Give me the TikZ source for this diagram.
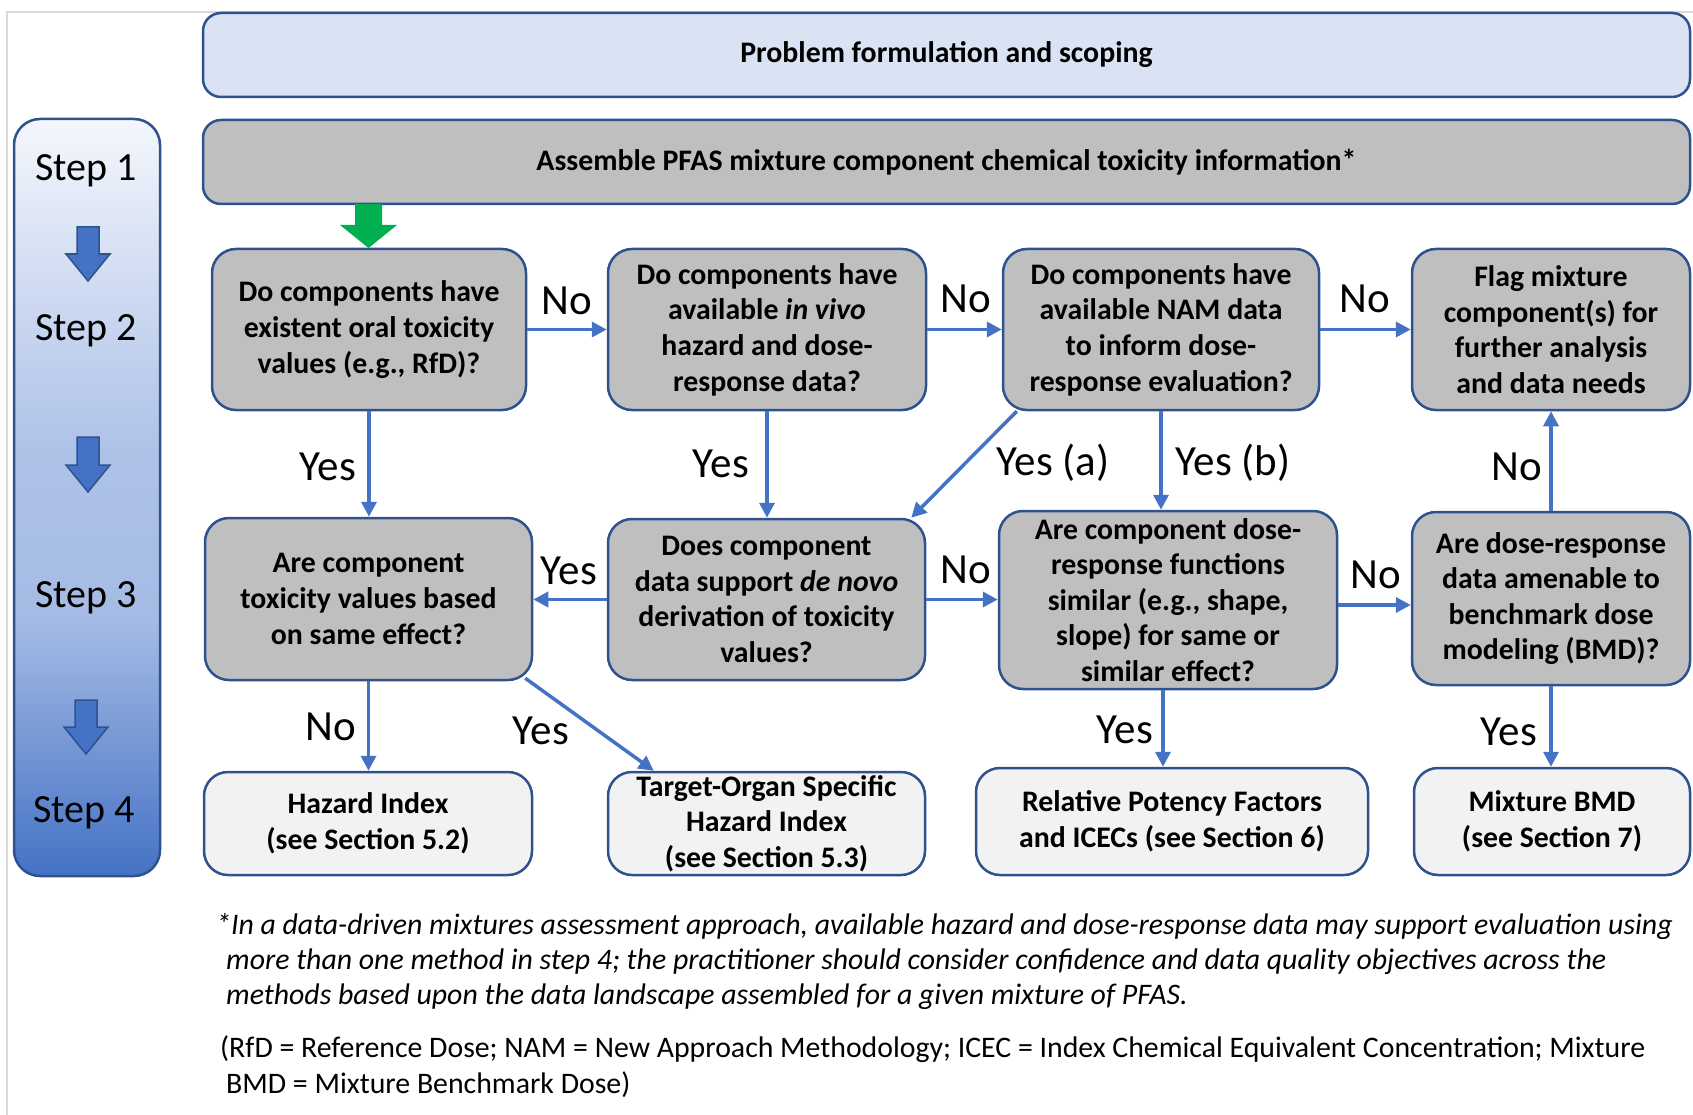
\documentclass[tikz,border=0pt]{standalone}
\usepackage{fontspec}
\setmainfont{Carlito}
\usetikzlibrary{arrows.meta,calc}

\definecolor{edgeblue}{HTML}{2F528F}
\definecolor{arrowblue}{HTML}{4472C4}
\definecolor{topfill}{HTML}{DAE3F3}
\definecolor{qfill}{HTML}{BFBFBF}
\definecolor{endfill}{HTML}{F2F2F2}
\definecolor{gogreen}{HTML}{00B050}
\definecolor{framegray}{HTML}{D9D9D9}
\definecolor{panelA}{HTML}{F4F7FC}
\definecolor{panelB}{HTML}{C6D4EF}
\definecolor{panelC}{HTML}{AEC2E8}
\definecolor{panelD}{HTML}{A5BBE5}

% light at the top, deep blue at the bottom (0bp = bottom)
\pgfdeclareverticalshading{stepshade}{100bp}{%
  color(0bp)=(arrowblue); color(25bp)=(arrowblue);
  color(42bp)=(panelD); color(53bp)=(panelC);
  color(61bp)=(panelB); color(75bp)=(panelA); color(100bp)=(panelA)}

\tikzset{
  box/.style={draw=edgeblue, line width=2.5pt, rounded corners=24pt,
    align=center, inner sep=0pt,
    font=\fontsize{29.8}{35.6}\selectfont\bfseries},
  headbox/.style={box, fill=topfill, rounded corners=18pt},
  infobox/.style={box, fill=qfill, rounded corners=18pt},
  qbox/.style={box, fill=qfill},
  endbox/.style={box, fill=endfill},
  flow/.style={draw=arrowblue, line width=3.5pt,
    -{Triangle[length=15pt,width=15pt]}},
  lbl/.style={font=\fontsize{43}{50}\selectfont, inner sep=0pt},
  steplbl/.style={font=\fontsize{40}{48}\selectfont, inner sep=0pt},
  blockarrow/.style={fill=arrowblue, draw=edgeblue, line width=1.5pt},
  notetext/.style={anchor=west, inner sep=0pt},
}

\begin{document}
\begin{tikzpicture}[x=1pt, y=-1pt]
\useasboundingbox (0,0) rectangle (1693,1115);

% outer frame
\draw[framegray, line width=2pt] (1693,12) -- (7,12) -- (7,1115);

% step panel
\path[shading=stepshade, draw=edgeblue, line width=2.5pt, rounded corners=26pt]
  (14,119) rectangle (160,876);
\node[steplbl] (s1) at (86,171) {Step 1};
\node[steplbl] (s2) at (86,331) {Step 2};
\node[steplbl] (s3) at (86,598) {Step 3};
\node[steplbl] (s4) at (84,813) {Step 4};
\draw[blockarrow] (77,227) -- (99,227) -- (99,254) -- (110,254) -- (88,281)
  -- (66,254) -- (77,254) -- cycle;
\draw[blockarrow] (77,437) -- (99,437) -- (99,465) -- (110,465) -- (88,492)
  -- (66,465) -- (77,465) -- cycle;
\draw[blockarrow] (75,700) -- (97,700) -- (97,727) -- (108,727) -- (86,754)
  -- (64,727) -- (75,727) -- cycle;

% top bands
\node[headbox, minimum width=1487pt, minimum height=84pt] (T) at (946.5,55)
  {Problem formulation and scoping};
\node[infobox, minimum width=1487pt, minimum height=84pt] (A) at (946.5,162)
  {Assemble PFAS mixture component chemical toxicity information*};

% row 1
\node[qbox, minimum width=314pt, minimum height=161pt] (B1) at (369,329.5)
  {Do components have\\existent oral toxicity\\values (e.g., RfD)?};
\node[qbox, minimum width=318pt, minimum height=161pt] (B2) at (767,329.5)
  {Do components have\\available \textit{in vivo}\\hazard and dose-\\response data?};
\node[qbox, minimum width=316pt, minimum height=161pt] (B3) at (1161,329.5)
  {Do components have\\available NAM data\\to inform dose-\\response evaluation?};
\node[qbox, minimum width=278pt, minimum height=161pt] (B4) at (1551,329.5)
  {Flag mixture\\component(s) for\\further analysis\\and data needs};

% row 2
\node[qbox, minimum width=327pt, minimum height=162pt] (C1) at (368.5,599)
  {Are component\\toxicity values based\\on same effect?};
\node[qbox, minimum width=317pt, minimum height=161pt] (C2) at (766.5,599.5)
  {Does component\\data support \textit{de novo}\\derivation of toxicity\\values?};
\node[qbox, minimum width=338pt, minimum height=178pt] (C3) at (1168,600)
  {Are component dose-\\response functions\\similar (e.g., shape,\\slope) for same or\\similar effect?};
\node[qbox, minimum width=278pt, minimum height=173pt] (C4) at (1551,598.5)
  {Are dose-response\\data amenable to\\benchmark dose\\modeling (BMD)?};

% row 3
\node[endbox, minimum width=328pt, minimum height=103pt] (D1) at (368,823.5)
  {Hazard Index\\(see Section 5.2)};
\node[endbox, minimum width=317pt, minimum height=103pt] (D2) at (766.5,823.5)
  {Target-Organ Specific\\Hazard Index\\(see Section 5.3)};
\node[endbox, minimum width=392pt, minimum height=107pt] (D3) at (1172,821.5)
  {Relative Potency Factors\\and ICECs (see Section 6)};
\node[endbox, minimum width=276pt, minimum height=107pt] (D4) at (1552,821.5)
  {Mixture BMD\\(see Section 7)};

% entry arrow
\fill[gogreen] (355,204) -- (382,204) -- (382,225) -- (397,225) -- (368.5,248)
  -- (340,225) -- (355,225) -- cycle;

% connectors
\draw[flow] (B1.east) -- (B2.west);
\draw[flow] (B2.east) -- (B3.west);
\draw[flow] (B3.east) -- (B4.west);
\draw[flow] (B1.south) -- (B1.south |- C1.north);
\draw[flow] (B2.south) -- (B2.south |- C2.north);
\draw[flow] ($(B3.south west)+(15,0)$) -- ($(C2.north east)+(-15,0)$);
\draw[flow] (B3.south) -- (B3.south |- C3.north);
\draw[flow] (C4.north) -- (C4.north |- B4.south);
\draw[flow] (C2.west) -- (C2.west -| C1.east);
\draw[flow] (C2.east) -- (C2.east -| C3.west);
\draw[flow] ($(C3.east)+(0,5)$) -- ($(C3.east -| C4.west)+(0,5)$);
\draw[flow] (C1.south) -- (C1.south |- D1.north);
\draw[flow] ($(C1.south east)+(-8,-3)$) -- ($(D2.north west)+(47,0)$);
\draw[flow] ($(C3.south)+(-5,0)$) -- ($(C3.south |- D3.north)+(-5,0)$);
\draw[flow] (C4.south) -- (C4.south |- D4.north);

% connector labels
\node[lbl] (n1) at (567,301) {No};
\node[lbl] (n2) at (966,299) {No};
\node[lbl] (n3) at (1365,299) {No};
\node[lbl] (y1) at (328,467) {Yes};
\node[lbl] (y2) at (721,464) {Yes};
\node[lbl] (ya) at (1053,463) {Yes (a)};
\node[lbl] (yb) at (1233,463) {Yes (b)};
\node[lbl] (n4) at (1517,467) {No};
\node[lbl] (y3) at (569,571) {Yes};
\node[lbl] (n5) at (966,570) {No};
\node[lbl] (n6) at (1376,575) {No};
\node[lbl] (n7) at (331,727) {No};
\node[lbl] (y4) at (541,731) {Yes};
\node[lbl] (y5) at (1125,730) {Yes};
\node[lbl] (y6) at (1509,732) {Yes};

% notes
\begin{scope}[font=\fontsize{29.8}{35}\selectfont]
\node[notetext] (f1) at (216,926) {\itshape *In a data-driven mixtures assessment approach, available hazard and dose-response data may support evaluation using};
\node[notetext] (f2) at (226,962) {\itshape more than one method in step 4; the practitioner should consider confidence and data quality objectives across the};
\node[notetext] (f3) at (226,997) {\itshape methods based upon the data landscape assembled for a given mixture of PFAS.};
\node[notetext] (f4) at (220,1049) {(RfD = Reference Dose; NAM = New Approach Methodology; ICEC = Index Chemical Equivalent Concentration; Mixture};
\node[notetext] (f5) at (226,1085) {BMD = Mixture Benchmark Dose)};
\end{scope}
\end{tikzpicture}
\end{document}
